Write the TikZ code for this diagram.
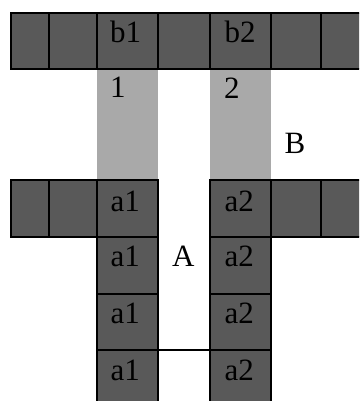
\documentclass[tikz,border=0pt]{standalone}
\usepackage{fontspec}
\setmainfont{Liberation Serif}
\definecolor{darkcell}{RGB}{89,89,89}
\definecolor{lightstrip}{RGB}{169,169,169}
\newcommand\mycell[5]{\node[cellbox, minimum width={(#4-#2)*1pt}, minimum height={(#5-#3)*1pt}] (#1) at ({(#2+#4)/2},{(#3+#5)/2}) {};}
\newcommand\mystrip[5]{\node[stripbox, minimum width={(#4-#2)*1pt}, minimum height={(#5-#3)*1pt}] (#1) at ({(#2+#4)/2},{(#3+#5)/2}) {};}
\begin{document}
\begin{tikzpicture}[x=1pt,y=-1pt,
  cellbox/.style={rectangle, draw=black, line width=2pt, fill=darkcell, inner sep=0pt, outer sep=0pt},
  stripbox/.style={rectangle, fill=lightstrip, inner sep=0pt, outer sep=0pt},
  lbl/.style={anchor=base west, inner sep=0pt, font=\fontsize{31}{36}\selectfont, text=black},
  link/.style={draw=black, line width=2pt}]
\useasboundingbox (0,0) rectangle (359,401);
\clip (0,0) rectangle (359,401);
% light strips
\mystrip{s1}{97}{69}{157.7}{180}
\mystrip{s2}{209.5}{69}{271}{180}
% top row
\mycell{t1}{10.7}{12.7}{49}{69}
\mycell{t2}{49}{12.7}{97}{69}
\mycell{t3}{97}{12.7}{157.7}{69}
\mycell{t4}{157.7}{12.7}{209.5}{69}
\mycell{t5}{209.5}{12.7}{271}{69}
\mycell{t6}{271}{12.7}{321}{69}
\mycell{t7}{321}{12.7}{372}{69}
% second row
\mycell{m1}{10.7}{180}{49}{236.5}
\mycell{m2}{49}{180}{97}{236.5}
\mycell{m3}{97}{180}{157.7}{236.5}
\mycell{m5}{209.5}{180}{271}{236.5}
\mycell{m6}{271}{180}{321}{236.5}
\mycell{m7}{321}{180}{372}{236.5}
% columns
\mycell{c1r2}{97}{236.5}{157.7}{294}
\mycell{c1r3}{97}{294}{157.7}{350}
\mycell{c1r4}{97}{350}{157.7}{420}
\mycell{c2r2}{209.5}{236.5}{271}{294}
\mycell{c2r3}{209.5}{294}{271}{350}
\mycell{c2r4}{209.5}{350}{271}{420}
% connector
\draw[link] (c1r4.north east) -- (c2r4.north west);
% labels
\node[lbl] (lb1) at (110,42.5) {b1};
\node[lbl] (lb2) at (224.5,43) {b2};
\node[lbl] (l1) at (110,98) {1};
\node[lbl] (l2) at (224,99) {2};
\node[lbl] (lB) at (284.5,153) {B};
\node[lbl] (lA) at (172,266.7) {A};
\node[lbl] (la11) at (110.5,211.7) {a1};
\node[lbl] (la12) at (110.5,266.7) {a1};
\node[lbl] (la13) at (110.5,323.3) {a1};
\node[lbl] (la14) at (110.5,380) {a1};
\node[lbl] (la21) at (224.5,211.7) {a2};
\node[lbl] (la22) at (224.5,266.7) {a2};
\node[lbl] (la23) at (224.5,323.3) {a2};
\node[lbl] (la24) at (224.5,380) {a2};
\end{tikzpicture}
\end{document}
